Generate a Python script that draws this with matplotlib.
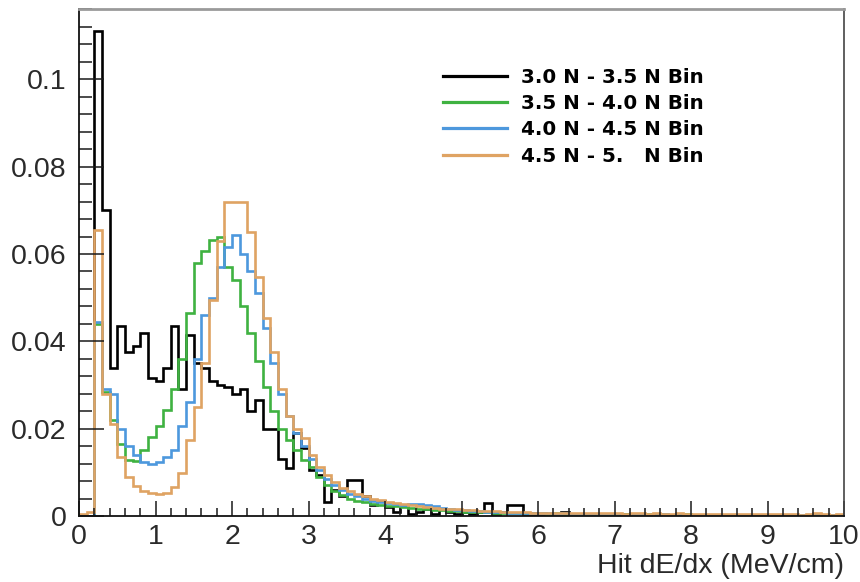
import numpy as np
import matplotlib
matplotlib.use("Agg")
import matplotlib.pyplot as plt
from matplotlib.lines import Line2D
from matplotlib.ticker import MultipleLocator, FuncFormatter

plt.rcParams["font.family"] = ["Liberation Sans", "DejaVu Sans"]

# dE/dx histograms, 100 bins of 0.1 MeV/cm from 0 to 10, normalised to unit area
x_lo, x_hi, n_bins = 0.0, 10.0, 100

black_vals = [
    0.0, 0.0, 0.111, 0.070, 0.034, 0.0435, 0.0375, 0.039, 0.042, 0.0315,
    0.031, 0.034, 0.0435, 0.029, 0.0415, 0.035, 0.034, 0.031, 0.030, 0.0295,
    0.028, 0.029, 0.024, 0.0265, 0.020, 0.020, 0.013, 0.011, 0.019, 0.0155,
    0.0105, 0.0095, 0.0033, 0.006, 0.0045, 0.0082, 0.0082, 0.0045, 0.0025, 0.0035,
    0.002, 0.001, 0.0025, 0.0005, 0.001, 0.0015, 0.0005, 0.0015, 0.001, 0.0005,
    0.001, 0.0005, 0.001, 0.003, 0.0005, 0.001, 0.0025, 0.0025, 0.0005, 0.0005,
    0.0005, 0.0, 0.0005, 0.001, 0.0005, 0.0, 0.0, 0.0005, 0.0, 0.0,
    0.0, 0.0005, 0.0, 0.0, 0.0, 0.0005, 0.0, 0.0, 0.0, 0.0,
    0.0, 0.0, 0.0, 0.0, 0.0, 0.0, 0.0, 0.0, 0.0, 0.0,
    0.0, 0.0, 0.0, 0.0, 0.0, 0.0, 0.0, 0.0, 0.0, 0.0,
]

green_vals = [
    0.0, 0.0, 0.044, 0.0285, 0.022, 0.0165, 0.0128, 0.0125, 0.015, 0.018,
    0.0205, 0.0243, 0.029, 0.036, 0.0464, 0.058, 0.0606, 0.0632, 0.064, 0.057,
    0.054, 0.048, 0.042, 0.0355, 0.0295, 0.024, 0.020, 0.0174, 0.015, 0.0128,
    0.0112, 0.009, 0.0072, 0.0057, 0.0047, 0.004, 0.0035, 0.0031, 0.0028, 0.0026,
    0.0024, 0.0022, 0.002, 0.0018, 0.0017, 0.0015, 0.0014, 0.0013, 0.0012, 0.0011,
    0.001, 0.001, 0.0009, 0.0009, 0.0008, 0.0008, 0.0007, 0.0007, 0.0006, 0.0006,
    0.0006, 0.0005, 0.0006, 0.0005, 0.0005, 0.0004, 0.0005, 0.0004, 0.0004, 0.0005,
    0.0004, 0.0004, 0.0003, 0.0004, 0.0004, 0.0003, 0.0004, 0.0003, 0.0003, 0.0004,
    0.0003, 0.0003, 0.0002, 0.0003, 0.0003, 0.0002, 0.0003, 0.0002, 0.0003, 0.0002,
    0.0002, 0.0003, 0.0002, 0.0002, 0.0002, 0.0003, 0.0004, 0.0003, 0.0002, 0.0002,
]

blue_vals = [
    0.0, 0.0, 0.0445, 0.029, 0.028, 0.020, 0.016, 0.014, 0.0124, 0.012,
    0.0124, 0.0136, 0.0151, 0.0205, 0.026, 0.036, 0.046, 0.050, 0.057, 0.0617,
    0.0644, 0.060, 0.056, 0.051, 0.043, 0.035, 0.028, 0.023, 0.019, 0.016,
    0.013, 0.0105, 0.0085, 0.007, 0.006, 0.005, 0.0045, 0.004, 0.0035, 0.0032,
    0.003, 0.0027, 0.0025, 0.0028, 0.0028, 0.0026, 0.0022, 0.0019, 0.0016, 0.0014,
    0.0013, 0.0012, 0.0011, 0.001, 0.001, 0.0009, 0.0008, 0.0008, 0.0007, 0.0007,
    0.0006, 0.0006, 0.0005, 0.0006, 0.0005, 0.0005, 0.0004, 0.0005, 0.0004, 0.0004,
    0.0004, 0.0003, 0.0004, 0.0004, 0.0003, 0.0003, 0.0004, 0.0003, 0.0003, 0.0003,
    0.0003, 0.0002, 0.0003, 0.0003, 0.0002, 0.0003, 0.0002, 0.0002, 0.0003, 0.0002,
    0.0002, 0.0002, 0.0003, 0.0002, 0.0002, 0.0002, 0.0003, 0.0002, 0.0002, 0.0002,
]

orange_vals = [
    0.0005, 0.001, 0.0655, 0.028, 0.021, 0.0135, 0.009, 0.0068, 0.0057, 0.0052,
    0.005, 0.0052, 0.0067, 0.0098, 0.0174, 0.025, 0.035, 0.0495, 0.063, 0.072,
    0.072, 0.0718, 0.065, 0.0548, 0.0453, 0.0376, 0.029, 0.0228, 0.020, 0.0178,
    0.014, 0.0113, 0.0094, 0.0077, 0.0065, 0.0057, 0.005, 0.0046, 0.004, 0.0036,
    0.0033, 0.003, 0.0027, 0.0025, 0.0023, 0.0021, 0.0019, 0.0017, 0.0016, 0.0015,
    0.0014, 0.0013, 0.0012, 0.0011, 0.0011, 0.001, 0.001, 0.0009, 0.0009, 0.0008,
    0.0008, 0.0007, 0.0008, 0.0007, 0.0007, 0.0006, 0.0007, 0.0006, 0.0006, 0.0007,
    0.0006, 0.0005, 0.0006, 0.0006, 0.0005, 0.0006, 0.0005, 0.0005, 0.0006, 0.0005,
    0.0005, 0.0004, 0.0005, 0.0005, 0.0004, 0.0005, 0.0004, 0.0004, 0.0005, 0.0004,
    0.0004, 0.0005, 0.0004, 0.0004, 0.0003, 0.0004, 0.0006, 0.0005, 0.0003, 0.0004,
]

labels = [
    "3.0 N - 3.5 N Bin",
    "3.5 N - 4.0 N Bin",
    "4.0 N - 4.5 N Bin",
    "4.5 N - 5.   N Bin",
]
colors = ["#000000", "#3fb241", "#4d98dd", "#dfa363"]
series = [black_vals, green_vals, blue_vals, orange_vals]

edges = np.linspace(x_lo, x_hi, n_bins + 1)

fig = plt.figure(figsize=(8.6, 5.82), dpi=100)
ax = fig.add_axes([79 / 860, 66 / 582, 765 / 860, 507 / 582])

for vals, c in zip(series, colors):
    ax.stairs(vals, edges, color=c, linewidth=1.9, baseline=0)

ax.set_xlim(x_lo, x_hi)
ax.set_ylim(0, 0.1161)

# ROOT-like axes: ticks inside, only on left and bottom
ax.xaxis.set_major_locator(MultipleLocator(1))
ax.xaxis.set_minor_locator(MultipleLocator(0.2))
ax.yaxis.set_major_locator(MultipleLocator(0.02))
ax.yaxis.set_minor_locator(MultipleLocator(0.004))
ax.yaxis.set_major_formatter(FuncFormatter(lambda v, p: f"{v:.2f}".rstrip("0").rstrip(".") if v else "0"))
ax.tick_params(axis="both", which="both", direction="in", top=False, right=False,
               width=1.1, colors="#1a1a1a", labelcolor="#2a2a2a", labelsize=20.5)
ax.tick_params(axis="x", which="major", length=10.5, pad=6)
ax.tick_params(axis="x", which="minor", length=5.5)
ax.tick_params(axis="y", which="major", length=18, pad=9)
ax.tick_params(axis="y", which="minor", length=9)

for side in ["left", "bottom"]:
    ax.spines[side].set_linewidth(1.3)
    ax.spines[side].set_color("#111111")
ax.spines["right"].set_linewidth(1.2)
ax.spines["right"].set_color("#444444")
ax.spines["top"].set_linewidth(2.0)
ax.spines["top"].set_color("#9a9a9a")

ax.set_xlabel("Hit dE/dx (MeV/cm)", fontsize=20.5, color="#2a2a2a", ha="right")
ax.xaxis.set_label_coords(1.0, -0.072)

handles = [Line2D([], [], color=c, linewidth=2.3) for c in colors]
ax.legend(handles, labels, loc="upper left", bbox_to_anchor=(0.476, 0.8846),
          frameon=False, borderpad=0, borderaxespad=0, handlelength=3.2,
          handletextpad=0.7, labelspacing=0.37,
          prop={"family": "DejaVu Sans", "weight": "bold", "size": 14.3})

fig.savefig("out.png", dpi=100)
